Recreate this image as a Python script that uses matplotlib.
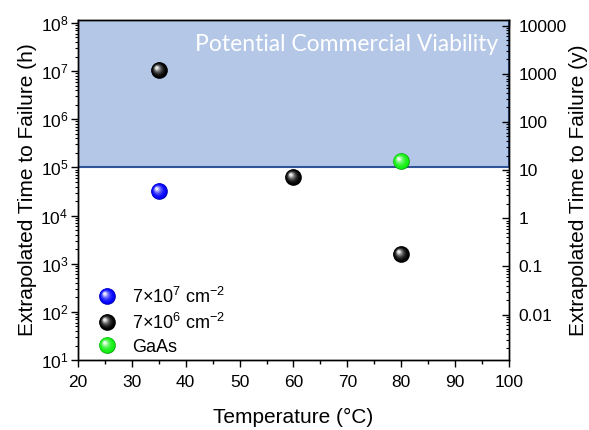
import matplotlib
matplotlib.use("Agg")
import matplotlib.pyplot as plt
import numpy as np
from matplotlib.markers import MarkerStyle
from matplotlib.transforms import Affine2D
from matplotlib.lines import Line2D
from matplotlib.legend_handler import HandlerTuple
from matplotlib.ticker import MultipleLocator, FixedLocator, FuncFormatter, LogLocator, NullFormatter
import matplotlib.colors as mcolors

plt.rcParams['font.family'] = ['Liberation Sans', 'DejaVu Sans']
plt.rcParams['mathtext.fontset'] = 'custom'
plt.rcParams['mathtext.rm'] = 'Liberation Sans'
plt.rcParams['mathtext.it'] = 'Liberation Sans:italic'
plt.rcParams['mathtext.bf'] = 'Liberation Sans:bold'

# ---- data ----
temp_hd = [35]                 # 7x10^7 cm^-2
life_hd = [3.3e4]
temp_ld = [35, 60, 80]         # 7x10^6 cm^-2
life_ld = [1.05e7, 6.3e4, 1.6e3]
temp_gaas = [80]
life_gaas = [1.35e5]
series_labels = [r"7×10$^{7}$ cm$^{-2}$", r"7×10$^{6}$ cm$^{-2}$", "GaAs"]
series_colors = ["#0000ff", "#000000", "#10f010"]
threshold_h = 1e5
region_label = "Potential Commercial Viability"
hours_per_year = 8760.0
x_limits = (20, 100)
y_limits = (10, 1.15e8)
right_ticks = [0.01, 0.1, 1, 10, 100, 1000, 10000]

fig = plt.figure(figsize=(5.89, 4.30), dpi=100)
ax = fig.add_axes([0.1324, 0.1628, 0.7318, 0.7907])
ax.set_xlim(*x_limits)
ax.set_yscale('log')
ax.set_ylim(*y_limits)

# shaded region
ax.axhspan(threshold_h, y_limits[1], facecolor='#b4c7e7', edgecolor='#2f5597',
           lw=1.5, zorder=0.5)
ax.text(0.975, 0.928, region_label, transform=ax.transAxes, ha='right', va='center',
        color='white', fontsize=16.5, family=['Lato', 'DejaVu Sans'], zorder=1)


def mix(c, w, f):
    a = np.array(mcolors.to_rgb(c))
    b = np.array(mcolors.to_rgb(w))
    return tuple(a * (1 - f) + b * f)


def sphere_layers(color, n=12):
    layers = []
    for k in range(n):
        t = k / (n - 1)
        s = 1 - 0.82 * t
        tr = Affine2D().scale(s).translate(-0.16 * t, 0.16 * t)
        m = MarkerStyle('o', transform=tr)
        if k == 0:
            col = mix(color, 'black', 0.35)
        else:
            col = mix(color, 'white', 0.9 * t ** 2.2)
        layers.append((m, col))
    return layers


MS = 12
handles = []
for xs, ys, c in [(temp_hd, life_hd, series_colors[0]),
                  (temp_ld, life_ld, series_colors[1]),
                  (temp_gaas, life_gaas, series_colors[2])]:
    hs = []
    for m, col in sphere_layers(c):
        ax.plot(xs, ys, ls='none', marker=m, markersize=MS, mfc=col, mec='none', zorder=3)
        hs.append(Line2D([], [], ls='none', marker=m, markersize=MS, mfc=col, mec='none'))
    handles.append(tuple(hs))

leg = ax.legend(handles, series_labels, handler_map={tuple: HandlerTuple(ndivide=1, pad=0)},
                loc='lower left', bbox_to_anchor=(0.004, -0.035), frameon=False, fontsize=13,
                numpoints=1, handlelength=1.2, handletextpad=0.8, labelspacing=0.33)

# ticks
ax.xaxis.set_major_locator(MultipleLocator(10))
ax.xaxis.set_minor_locator(MultipleLocator(5))
ax.tick_params(axis='x', which='both', direction='out', top=False, labelsize=12.5, pad=6)
ax.tick_params(axis='x', which='major', length=5, width=1)
ax.tick_params(axis='x', which='minor', length=3, width=1)
ax.yaxis.set_major_locator(LogLocator(base=10, numticks=12))
ax.yaxis.set_minor_locator(LogLocator(base=10, subs=np.arange(2, 10), numticks=12))
ax.yaxis.set_minor_formatter(NullFormatter())
ax.tick_params(axis='y', which='both', direction='out', right=False, labelsize=12.5, pad=2)
ax.tick_params(axis='y', which='major', length=5, width=1)
ax.tick_params(axis='y', which='minor', length=2.5, width=0.8)

top = ax.secondary_xaxis('top')
top.xaxis.set_major_locator(MultipleLocator(10))
top.xaxis.set_minor_locator(MultipleLocator(5))
top.tick_params(which='both', direction='in', labeltop=False)
top.tick_params(which='major', length=4.5, width=1)
top.tick_params(which='minor', length=4, width=1)

ax2 = ax.twinx()
ax2.set_yscale('log')
ax2.set_ylim(y_limits[0] / hours_per_year, y_limits[1] / hours_per_year)
ax2.yaxis.set_major_locator(FixedLocator(right_ticks))
ax2.yaxis.set_major_formatter(FuncFormatter(lambda v, p: '{:g}'.format(v)))
ax2.yaxis.set_minor_locator(LogLocator(base=10, subs=np.arange(2, 10), numticks=12))
ax2.yaxis.set_minor_formatter(NullFormatter())
ax2.tick_params(which='both', direction='in', labelsize=12.5, pad=7)
ax2.tick_params(which='major', length=5, width=1)
ax2.tick_params(which='minor', length=2.5, width=0.8)

for a in (ax, ax2):
    for sp in a.spines.values():
        sp.set_linewidth(1.0)
        sp.set_color('black')

ax.set_xlabel("Temperature (°C)", fontsize=15, labelpad=13)
ax.set_ylabel("Extrapolated Time to Failure (h)", fontsize=15)
ax2.set_ylabel("Extrapolated Time to Failure (y)", fontsize=15)
ax.yaxis.set_label_coords(-0.095, 0.5)
ax2.yaxis.set_label_coords(1.139, 0.5)

fig.savefig("out.png", dpi=100)
